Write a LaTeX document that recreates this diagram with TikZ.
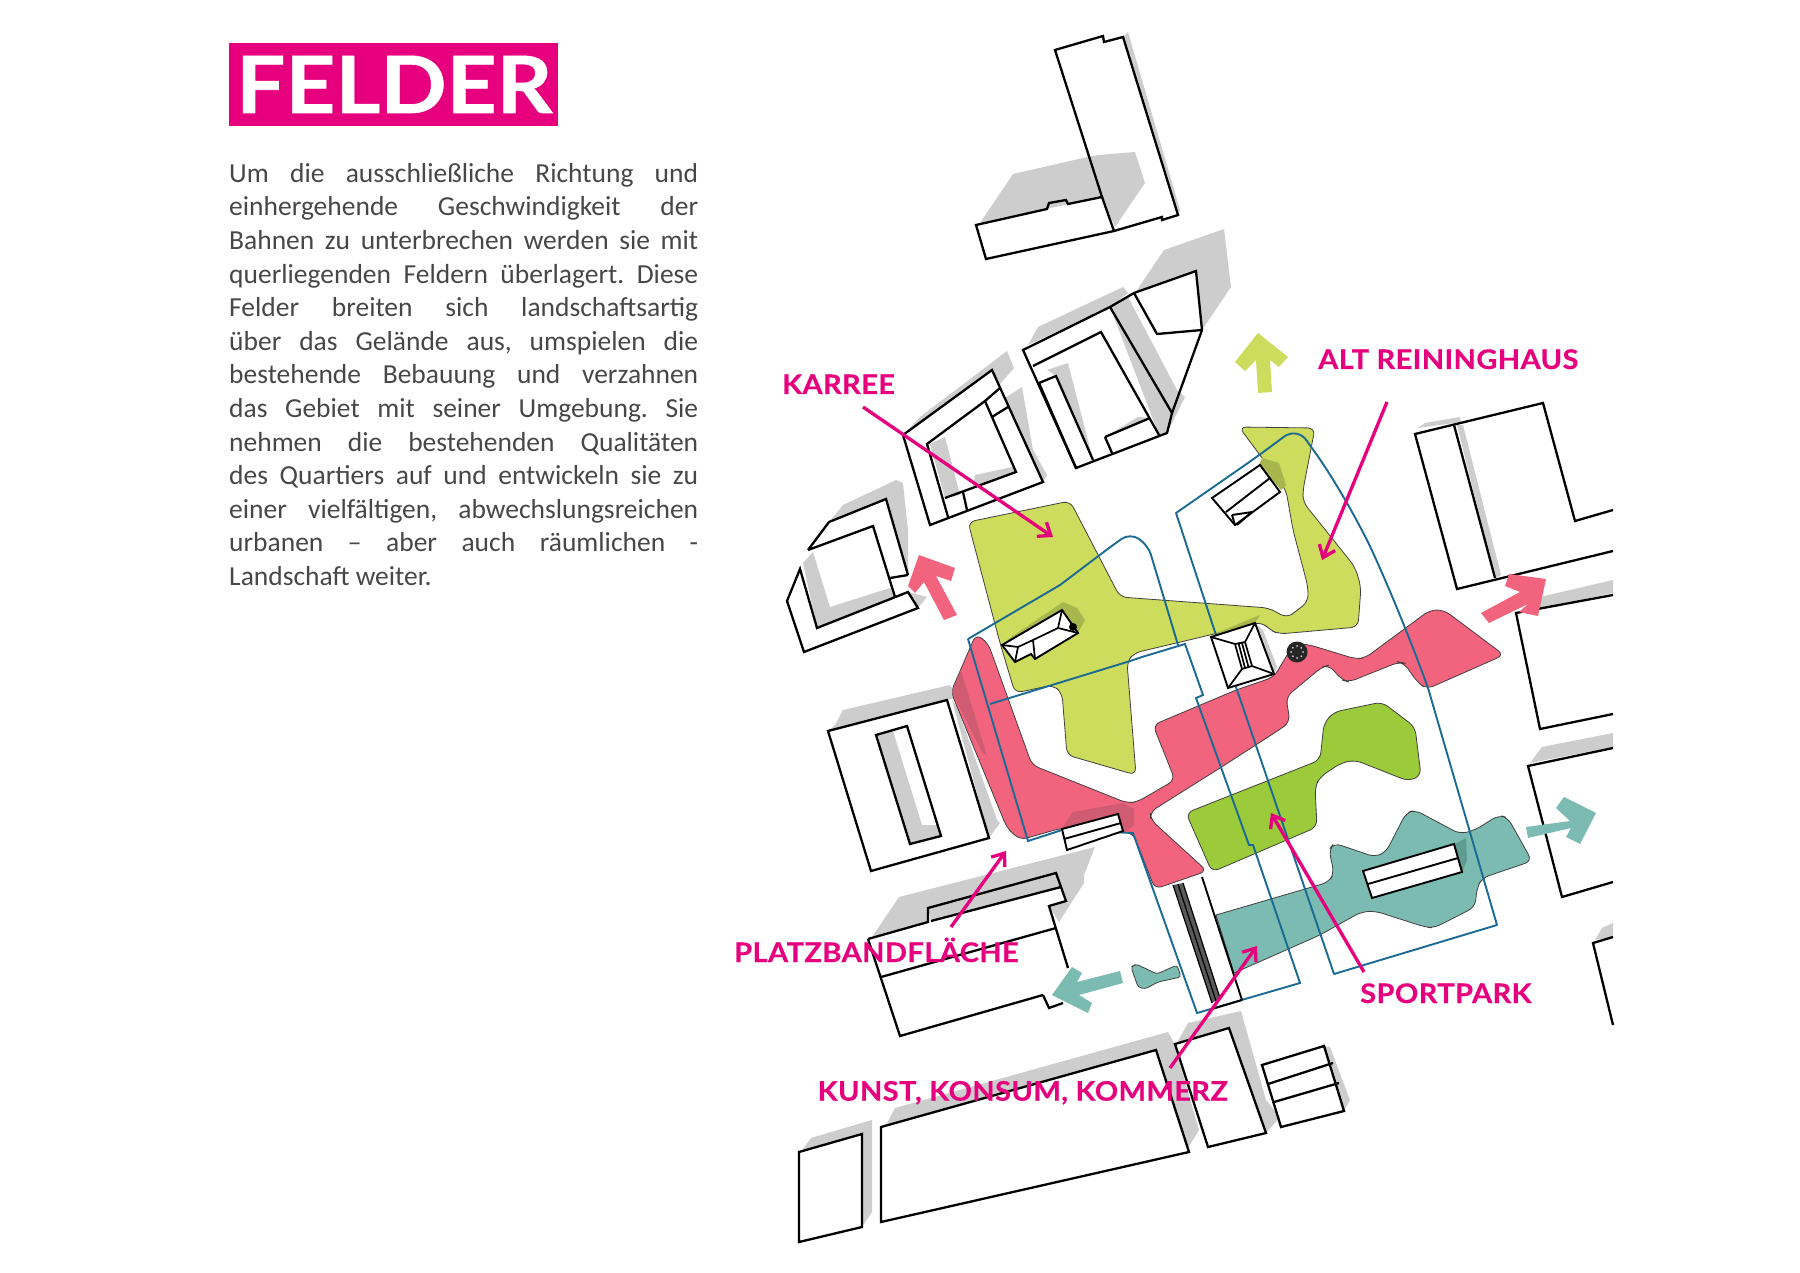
\documentclass[tikz,border=0pt]{standalone}
\usepackage{fontspec}
\usepackage{xcolor}
\usetikzlibrary{arrows.meta}
\setmainfont{Carlito}
\newfontfamily\labelfont[FakeStretch=1.075,FakeBold=0.4,LetterSpace=1.5]{Lato Bold}
\newfontfamily\titlefont[FakeStretch=1.1,FakeBold=0.8]{Lato Bold}
\definecolor{magentaFeld}{HTML}{E6007E}
\definecolor{castgray}{HTML}{CDCDCD}
\definecolor{greenLight}{HTML}{CDDC5C}
\definecolor{greenDark}{HTML}{9BCA3A}
\definecolor{pinkFeld}{HTML}{F2647E}
\definecolor{tealFeld}{HTML}{7CBBB1}
\definecolor{planBlue}{HTML}{1B6A94}
\definecolor{greenShade}{HTML}{A8B64E}
\definecolor{pinkShade}{HTML}{CF5C73}
\definecolor{tealShade}{HTML}{5F9D93}
\newcommand{\bodyline}[1]{\makebox[469pt][s]{#1}}
\tikzset{
  cast/.style={fill=castgray},
  house/.style={draw=black,line width=2.3pt,line join=miter},
  block/.style={draw=black,line width=1.9pt,fill=white},
  feld/.style={draw=black!75,line width=0.8pt,rounded corners=7pt},
  lot/.style={draw=planBlue,line width=1.9pt},
  tagname/.style={font=\labelfont\fontsize{27}{27}\selectfont,text=magentaFeld,anchor=base west,inner sep=0pt},
  leader/.style={draw=magentaFeld,line width=3.3pt,-{Straight Barb[length=11pt,width=17pt,line width=3.3pt]}},
}
\begin{document}
\begin{tikzpicture}[x=1pt,y=-1pt]
  \useasboundingbox (0,0) rectangle (1800,1273);

  \fill[cast] (980,223) -- (1013,174) -- (1083,158) -- (1098,155) -- (1135,152) -- (1145,183) -- (1115,227) -- (1102,197) -- cycle;
  \fill[cast] (1123,37) -- (1128,32) -- (1180,210) -- (1178,215) -- cycle;
  \fill[cast] (1135,293) -- (1164,250) -- (1224,229) -- (1231,287) -- (1202,330) -- (1196,271) -- cycle;
  \fill[cast] (1028,345) -- (1038,327) -- (1123,287) -- (1128,293) -- (1110,307) -- cycle;
  \fill[cast] (1110,307) -- (1128,297) -- (1177,390) -- (1185,397) -- (1167,433) -- (1159,435) -- cycle;
  \fill[cast] (1047,370) -- (1068,363) -- (1093,460) -- (1056,376) -- cycle;
  \fill[cast] (1105,437) -- (1138,417) -- (1150,418) -- cycle;
  \fill[cast] (903,435) -- (920,417) -- (1007,351) -- (1014,368) -- (1000,384) -- (992,370) -- cycle;
  \fill[cast] (1005,398) -- (1022,387) -- (1033,450) -- (1047,475) -- (1043,482) -- (1008,407) -- cycle;
  \fill[cast] (930,444) -- (945,437) -- (960,495) -- (945,498) -- cycle;
  \fill[cast] (975,475) -- (1012,467) -- (1016,472) -- (973,487) -- cycle;
  \fill[cast] (829,522) -- (843,505) -- (896,480) -- (903,483) -- (908,530) -- (908,575) -- (886,499) -- cycle;
  \fill[cast] (803,563) -- (813,552) -- (830,607) -- (890,588) -- (895,597) -- (817,628) -- cycle;
  \fill[cast] (908,592) -- (927,597) -- (918,608) -- cycle;
  \fill[cast] (828,731) -- (835,725) -- (843,710) -- (950,685) -- (958,697) -- (947,700) -- cycle;
  \fill[cast] (952,700) -- (957,707) -- (997,820) -- (1000,823) -- (989,838) -- cycle;
  \fill[cast] (876,735) -- (893,731) -- (922,825) -- (937,825) -- (941,836) -- (910,844) -- cycle;
  \fill[cast] (872,937) -- (899,897) -- (1095,847) -- (1084,875) -- (1084,883) -- (1059,922) -- (1049,906) -- (1066,901) -- (1056,873) -- (928,908) -- (928,922) -- cycle;
  \fill[cast] (928,908) -- (1056,873) -- (1061,887) -- (931,921) -- cycle;
  \fill[cast] (886,1125) -- (895,1108) -- (1168,1032) -- (1174,1043) -- (1199,1130) -- (1188,1148) -- (1156,1050) -- cycle;
  \fill[cast] (1177,1043) -- (1188,1023) -- (1241,1011) -- (1266,1100) -- (1280,1117) -- (1266,1133) -- (1229,1028) -- cycle;
  \fill[cast] (802,1150) -- (811,1138) -- (872,1120) -- (872,1212) -- (862,1227) -- (862,1134) -- cycle;
  \fill[cast] (1324,1046) -- (1330,1047) -- (1350,1100) -- (1344,1111) -- cycle;
  \fill[cast] (1418,428) -- (1425,423) -- (1460,417) -- (1461,422) -- cycle;
  \fill[cast] (1457,425) -- (1463,425) -- (1501,575) -- (1495,578) -- cycle;
  \fill[cast] (1525,612) -- (1540,597) -- (1613,580) -- (1613,593) -- cycle;
  \fill[cast] (1530,763) -- (1542,747) -- (1613,733) -- (1613,747) -- cycle;
  \fill[cast] (1595,940) -- (1602,928) -- (1613,923) -- (1613,937) -- cycle;
  \fill[cast] (1255,623) -- (1263,630) -- (1277,667) -- (1274,674) -- cycle;

  \path[feld,fill=greenLight] (968,522) -- (1070,501) -- (1120,597) -- (1269,608) -- (1287,618) -- (1308,602)
    -- (1308,587) -- (1293,530) -- (1286,490) -- (1239,427) -- (1315,428) -- (1303,490) -- (1303,502)
    -- (1355,567) -- (1361,587) -- (1358,627) -- (1279,634) -- (1270,630) -- (1262,622) -- (1210,635)
    -- (1134,653) -- (1127,662) -- (1136,775) -- (1067,755) -- (1062,693) -- (1053,685) -- (1015,693)
    -- (1000,643) -- cycle;
  \path[feld,fill=pinkFeld] (976,634) -- (988,643) -- (1032,765) -- (1127,803) -- (1137,802) -- (1175,780)
    -- (1153,725) -- (1236,690) -- (1274,677) -- (1287,655) -- (1296,643) -- (1310,645) -- (1356,659)
    -- (1365,658) -- (1430,610) -- (1444,610) -- (1504,655) -- (1427,689) -- (1418,683) -- (1404,663)
    -- (1399,662) -- (1349,682) -- (1342,680) -- (1329,665) -- (1322,667) -- (1286,697) -- (1290,722)
    -- (1279,730) -- (1220,768) -- (1150,812) -- (1151,820) -- (1207,871) -- (1155,889) -- (1133,833)
    -- (1062,828) -- (1020,840) -- (1007,828) -- (951,692) -- cycle;
  \fill[pinkShade] (952,692) -- (961,670) -- (987,756) -- (982,752) -- cycle;
  \fill[pinkShade] (1062,828) -- (1073,812) -- (1123,803) -- (1134,809) -- (1134,825) -- (1125,832) -- (1118,813) -- cycle;
  \path[feld,fill=greenDark] (1186,813) -- (1320,760) -- (1324,723) -- (1334,712) -- (1382,702) -- (1415,727)
    -- (1421,776) -- (1408,781) -- (1355,760) -- (1341,763) -- (1320,777) -- (1315,787) -- (1317,827)
    -- (1212,872) -- cycle;
  \path[feld,fill=tealFeld,sharp corners] (1216,915) [rounded corners=7pt] -- (1329,882) -- (1334,873) -- (1329,850) -- (1334,843) -- (1375,857)
    -- (1386,852) -- (1406,813) -- (1415,810) -- (1460,834) -- (1475,830) -- (1499,815) -- (1508,818)
    -- (1532,861) -- (1482,878) -- (1477,888) -- (1475,907) -- (1434,928) -- (1425,927) -- (1375,911)
    -- (1361,912) -- (1320,935) [sharp corners] -- (1234,973) -- cycle;
  \path[feld,fill=tealFeld,rounded corners=3pt] (1131,967) -- (1136,964) -- (1157,974) -- (1177,965) -- (1181,977)
    -- (1158,982) -- (1145,989) -- (1138,987) -- cycle;
  \fill[tealShade] (1455,844) -- (1466,838) -- (1467,860) -- (1462,873) -- cycle;
  \fill[greenShade] (1262,458) -- (1279,463) -- (1286,485) -- (1281,490) -- (1259,465) -- cycle;
  \fill[greenShade] (1007,640) -- (1063,602) -- (1077,608) -- (1085,620) -- (1078,633) -- cycle;
  \fill[greenShade] (1219,632) -- (1260,615) -- (1255,623) -- (1211,637) -- cycle;

  \draw[lot] (968,639) -- (1060,585) [rounded corners=10pt] -- (1113,545) -- (1130,533) -- (1148,545) [sharp corners] -- (1178,645);
  \draw[lot] (968,639) -- (1028,841) -- (1062,830) -- (1133,833) -- (1197,1013) -- (1300,983) -- (1253,845)
    -- (1249,845) -- (1196,698) -- (1203,695) -- (1185,644) -- (1142,657) -- (1127,662) -- (990,704);
  \draw[lot,line join=round] (1176,513) [rounded corners=16pt] -- (1258,456) -- (1297,427) [rounded corners=60pt] -- (1351,503)
    -- (1406,627) [sharp corners] -- (1428,688) -- (1497,925) -- (1334,974) -- (1236,687) -- (1215,632) -- cycle;

  \draw[block] (1211,637) -- (1255,623) -- (1274,674) -- (1228,688) -- cycle;
  \draw[line width=1.7pt] (1211,637) -- (1235,644) -- (1245,642) -- (1255,623) (1274,674) -- (1252,666) -- (1242,669) -- (1228,688)
    (1235,644) -- (1242,669) (1245,642) -- (1252,666) (1238.5,643) -- (1245,668) (1242,643) -- (1248.5,667);
  \draw[block] (1212,498) -- (1260,465) -- (1280,492) -- (1235,525) -- cycle;
  \draw[line width=1.9pt] (1226,512) -- (1270,478) (1232,515) -- (1252,512) -- (1237,525) (1232,515) -- (1235,525);
  \draw[block] (1002,645) -- (1062,610) -- (1078,633) -- (1035,659) -- (1031,654) -- (1015,662) -- cycle;
  \draw[line width=1.7pt] (1002,645) -- (1018,647) -- (1033,640) -- (1058,628) -- (1062,610) (1018,647) -- (1015,662)
    (1033,640) -- (1035,659) (1058,628) -- (1078,633);
  \fill (1073,627) circle (4pt);
  \draw[block] (1062,829) -- (1118,814) -- (1123,831) -- (1067,850) -- cycle;
  \draw[line width=1.9pt] (1064,839) -- (1121,823);
  \draw[block] (1363,871) -- (1454,844) -- (1462,872) -- (1372,898) -- cycle;
  \draw[line width=1.9pt] (1368,884) -- (1458,858);
  \fill[black!65] (1173,885) -- (1183,883) -- (1220,998) -- (1212,1003) -- cycle;
  \draw[black,line width=1.2pt] (1173,885) -- (1212,1003) (1178,884) -- (1216,1001) (1183,883) -- (1220,998);
  \draw[line width=1.9pt] (1202,877) -- (1242,1000) (1212,1009) -- (1242,1000);
  \fill[black!85] (1297,652) circle (10.5pt);
  \foreach \a in {0,45,...,315}{\fill[white!80!black] (1297,652) ++(\a:6pt) circle (1pt);}

  \draw[house] (1055,50) -- (1103,36) -- (1104,42) -- (1123,37) -- (1178,215) -- (1162,220) -- (1162,217)
    -- (1114,231) -- (986,259) -- (976,225) -- (1047,209) -- (1049,203) -- (1066,200) -- (1068,204) -- (1102,197) -- cycle;
  \draw[house] (1102,197) -- (1114,231);
  \draw[house] (1196,271) -- (1202,330) -- (1172,413) -- (1167,433) -- (1076,468) -- (1023,350) -- (1110,307) -- (1134,293) -- cycle;
  \draw[house] (1134,293) -- (1157,334) -- (1202,330) (1110,307) -- (1172,413) (1033,366) -- (1101,332) -- (1159,435)
    (1039,383) -- (1056,376) -- (1093,460) (1039,383) -- (1076,468) (1105,437) -- (1150,418) (1105,437) -- (1112,453);
  \draw[house] (903,435) -- (992,370) -- (1043,482) -- (930,525) -- cycle;
  \draw[house] (1000,388) -- (985,401) -- (1016,472) -- (945,498) (985,401) -- (927,444) -- (948,517) (992,417) -- (1008,407) (963,492) -- (967,510);
  \draw[house] (808,550) -- (829,522) -- (886,499) -- (908,575) (808,550) -- (873,526) -- (895,597) (890,578) -- (908,575);
  \draw[house] (800,569) -- (787,601) -- (804,652) -- (918,608) -- (908,592) -- (817,628) -- cycle;
  \draw[house] (828,731) -- (947,700) -- (989,838) -- (871,871) -- cycle;
  \draw[house] (876,735) -- (907,726) -- (941,836) -- (910,844) -- cycle;
  \draw[house] (868,939) -- (928,922) -- (928,908) -- (1056,873) -- (1066,901) -- (1049,906) -- (1068,968)
    (1043,995) -- (1049,1008) -- (1063,1003) (1043,995) -- (900,1036) -- (868,939);
  \draw[house] (931,921) -- (1061,887) (881,977) -- (1056,928);
  \draw[house] (881,1127) -- (1156,1050) -- (1189,1152) -- (881,1222) -- cycle;
  \draw[house] (1175,1044) -- (1229,1028) -- (1266,1133) -- (1208,1147) -- cycle;
  \draw[house] (799,1152) -- (862,1134) -- (862,1227) -- (799,1242) -- cycle;
  \draw[house] (1262,1065) -- (1324,1046) -- (1344,1111) -- (1281,1127) -- cycle;
  \draw[house] (1268,1084) -- (1333,1063) (1274,1102) -- (1339,1083);
  \draw[house] (1613,510) -- (1575,521) -- (1543,403) -- (1415,434) -- (1457,589) -- (1613,551);
  \draw[house] (1454,425) -- (1495,578);
  \draw[house] (1613,595) -- (1516,613) -- (1540,729) -- (1613,714);
  \draw[house] (1613,748) -- (1528,766) -- (1562,897) -- (1613,882);
  \draw[house] (1613,937) -- (1593,943) -- (1613,1025);

  \fill[pinkFeld] (919,555) -- (955,568) -- (951,581) -- (936,576) -- (957,615) -- (944,620) -- (924,582) -- (915,593) -- (908,586) -- cycle;
  \fill[pinkFeld] (1546,579) -- (1509,574) -- (1505,586) -- (1520,592) -- (1481,613) -- (1489,623) -- (1528,604) -- (1519,612) -- (1538,616) -- cycle;
  \fill[greenLight] (1258,333) -- (1288,357) -- (1279,367) -- (1270,360) -- (1272,392) -- (1258,393) -- (1256,360) -- (1245,371) -- (1235,362) -- cycle;
  \fill[tealFeld] (1596,813) -- (1564,797) -- (1556,808) -- (1570,821) -- (1526,827) -- (1528,838) -- (1571,828) -- (1566,837) -- (1580,844) -- cycle;
  \fill[tealFeld] (1052,995) -- (1072,967) -- (1082,973) -- (1077,982) -- (1120,971) -- (1123,983) -- (1079,995) -- (1092,1003) -- (1088,1013) -- cycle;

  \node[fill=magentaFeld,minimum width=329pt,minimum height=83pt,inner sep=0pt,anchor=north west] (titlebox) at (228.3,43.3) {};
  \node[font=\titlefont\fontsize{79}{79}\selectfont,text=white,anchor=base west,inner sep=0pt] (title) at (236,113) {FELDER};
  \node[font=\fontsize{27.5}{33.6}\selectfont\frenchspacing,text=black!72,align=left,anchor=north west,inner sep=0pt] (body) at (229,163) {%
    \bodyline{Um die ausschließliche Richtung und}\\
    \bodyline{einhergehende Geschwindigkeit der}\\
    \bodyline{Bahnen zu unterbrechen werden sie mit}\\
    \bodyline{querliegenden Feldern überlagert. Diese}\\
    \bodyline{Felder breiten sich landschaftsartig}\\
    \bodyline{über das Gelände aus, umspielen die}\\
    \bodyline{bestehende Bebauung und verzahnen}\\
    \bodyline{das Gebiet mit seiner Umgebung. Sie}\\
    \bodyline{nehmen die bestehenden Qualitäten}\\
    \bodyline{des Quartiers auf und entwickeln sie zu}\\
    \bodyline{einer vielfältigen, abwechslungsreichen}\\
    \bodyline{urbanen – aber auch räumlichen -}\\
    Landschaft weiter.};

  \node[tagname] (karree) at (782,394) {KARREE};
  \node[tagname] (altreininghaus) at (1318,369) {ALT REININGHAUS};
  \node[tagname] (platzband) at (734,962) {PLATZBANDFLÄCHE};
  \node[tagname] (sportpark) at (1360,1003) {SPORTPARK};
  \node[tagname] (kunst) at (817.5,1100.7) {KUNST, KONSUM, KOMMERZ};

  \coordinate (karreeA) at (863,407);
  \coordinate (karreeB) at (1053,537);
  \coordinate (altA) at (1387,402);
  \coordinate (altB) at (1322,560);
  \coordinate (platzA) at (951,927);
  \coordinate (platzB) at (1006,851);
  \coordinate (sportA) at (1364,972);
  \coordinate (sportB) at (1271,813);
  \coordinate (kunstA) at (1170,1068);
  \coordinate (kunstB) at (1257,946);
  \draw[leader] (karreeA) -- (karreeB);
  \draw[leader] (altA) -- (altB);
  \draw[leader] (platzA) -- (platzB);
  \draw[leader] (sportA) -- (sportB);
  \draw[leader] (kunstA) -- (kunstB);
\end{tikzpicture}
\end{document}
